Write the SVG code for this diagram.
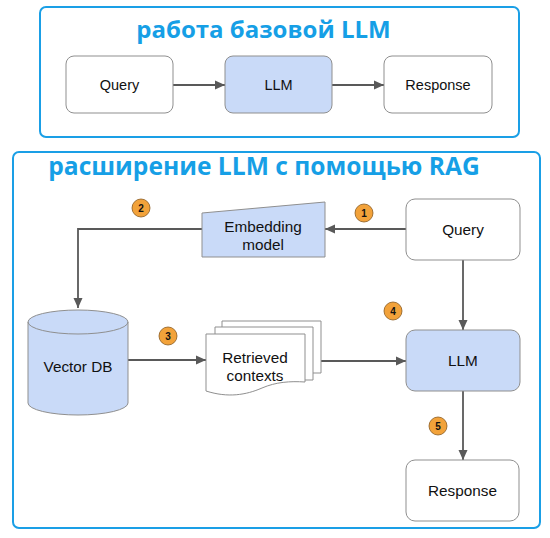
<svg xmlns="http://www.w3.org/2000/svg" width="550" height="538" viewBox="0 0 550 538">
  <defs>
    <marker id="arr" markerUnits="userSpaceOnUse" markerWidth="12" markerHeight="10" refX="10" refY="5" orient="auto">
      <path d="M0,0.5 L10,5 L0,9.5 Z" fill="#595959"/>
    </marker>
    <style>
      .frame { fill: #ffffff; stroke: #1a9fe6; stroke-width: 2; }
      .title { font-family: "Open Sans", "Liberation Sans", sans-serif; font-weight: bold; font-size: 24px; fill: #169fe6; text-anchor: middle; }
      .title2 { font-size: 24.6px; }
      .node { stroke: #8f8f8f; stroke-width: 1; }
      .white { fill: #ffffff; }
      .blue { fill: #c9daf8; }
      .lbl { font-family: "Liberation Sans", Arial, sans-serif; font-size: 14.5px; fill: #111111; text-anchor: middle; }
      .lbl2 { font-family: "Liberation Sans", Arial, sans-serif; font-size: 15.3px; fill: #111111; text-anchor: middle; }
      .conn { fill: none; stroke: #595959; stroke-width: 1.8; }
      .badge { fill: #f2a23a; stroke: #8a5a1e; stroke-width: 0.8; }
      .bnum { font-family: "Liberation Sans", Arial, sans-serif; font-size: 10px; font-weight: bold; fill: #111111; text-anchor: middle; }
    </style>
  </defs>

  <rect width="550" height="538" fill="#ffffff"/>

  <g id="frame-base">
    <rect class="frame" x="40" y="7" width="479" height="130" rx="6"/>
    <text class="title" x="263.5" y="38">работа базовой LLM</text>
  </g>
  <g id="frame-rag">
    <rect class="frame" x="13" y="152" width="527" height="376" rx="6"/>
    <text class="title title2" x="264" y="175">расширение LLM с помощью RAG</text>
  </g>

  <g id="connectors">
    <line class="conn" x1="173" y1="85" x2="225" y2="85" marker-end="url(#arr)"/>
    <line class="conn" x1="332" y1="85" x2="384" y2="85" marker-end="url(#arr)"/>
    <line class="conn" x1="406" y1="229" x2="325" y2="229" marker-end="url(#arr)"/>
    <polyline class="conn" points="202,229 78,229 78,308" marker-end="url(#arr)"/>
    <line class="conn" x1="128" y1="360" x2="206" y2="360" marker-end="url(#arr)"/>
    <line class="conn" x1="321" y1="361" x2="406" y2="361" marker-end="url(#arr)"/>
    <line class="conn" x1="463" y1="260" x2="463" y2="330" marker-end="url(#arr)"/>
    <line class="conn" x1="463" y1="391" x2="463" y2="460" marker-end="url(#arr)"/>
  </g>

  <g id="top-query">
    <rect class="node white" x="66" y="56" width="107" height="57" rx="8"/>
    <text class="lbl" x="119.5" y="90">Query</text>
  </g>
  <g id="top-llm">
    <rect class="node blue" x="225" y="56" width="107" height="57" rx="8"/>
    <text class="lbl" x="278.5" y="90">LLM</text>
  </g>
  <g id="top-response">
    <rect class="node white" x="384" y="56" width="108" height="57" rx="8"/>
    <text class="lbl" x="438" y="90">Response</text>
  </g>

  <g id="query">
    <rect class="node white" x="406" y="199" width="114" height="61" rx="9"/>
    <text class="lbl2" x="463" y="235">Query</text>
  </g>
  <g id="embedding">
    <polygon class="node blue" points="202,213 325,202 325,257 202,257"/>
    <text class="lbl2" x="263" y="232">Embedding</text>
    <text class="lbl2" x="263" y="250">model</text>
  </g>
  <g id="vectordb">
    <path class="node blue" d="M28,322 A50,12 0 0 1 128,322 V403 A50,12 0 0 1 28,403 Z"/>
    <path class="node" fill="none" d="M28,322 A50,12 0 0 0 128,322"/>
    <text class="lbl2" x="78" y="372">Vector DB</text>
  </g>
  <g id="retrieved">
    <path class="node white" d="M222,321 H321 V373 H222 Z"/>
    <path class="node white" d="M215,327 H313 V380 H215 Z"/>
    <path class="node white" d="M206,334 H305 V382 C290,381 276,382 262,388 C246,395 228,398 206,391 Z"/>
    <text class="lbl2" x="255" y="363">Retrieved</text>
    <text class="lbl2" x="255" y="381">contexts</text>
  </g>
  <g id="llm">
    <rect class="node blue" x="406" y="330" width="114" height="61" rx="9"/>
    <text class="lbl2" x="463" y="366">LLM</text>
  </g>
  <g id="response">
    <rect class="node white" x="406" y="460" width="113" height="61" rx="9"/>
    <text class="lbl2" x="462.5" y="496">Response</text>
  </g>

  <g id="badge-1">
    <circle class="badge" cx="364" cy="213" r="9"/>
    <text class="bnum" x="364" y="216.5">1</text>
  </g>
  <g id="badge-2">
    <circle class="badge" cx="141" cy="208" r="9"/>
    <text class="bnum" x="141" y="211.5">2</text>
  </g>
  <g id="badge-3">
    <circle class="badge" cx="168" cy="336" r="9"/>
    <text class="bnum" x="168" y="339.5">3</text>
  </g>
  <g id="badge-4">
    <circle class="badge" cx="393" cy="311" r="9"/>
    <text class="bnum" x="393" y="314.5">4</text>
  </g>
  <g id="badge-5">
    <circle class="badge" cx="438" cy="426" r="9"/>
    <text class="bnum" x="438" y="429.5">5</text>
  </g>
</svg>
